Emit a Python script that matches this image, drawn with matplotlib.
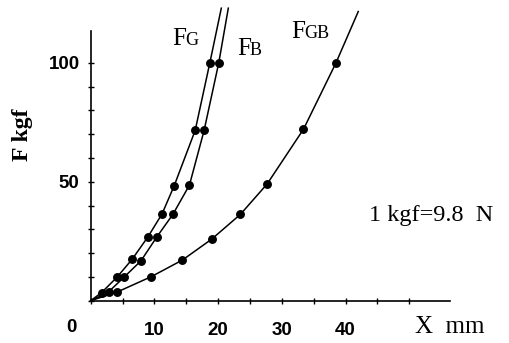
import numpy as np
import matplotlib.pyplot as plt

# load F (kgf) against extension X (mm); first and last entries are where
# the drawn curves start (origin) and run off the top, not measured points
fg_x = [0, 1.7, 4.1, 6.5, 9.0, 11.2, 13.1, 16.4, 18.7, 20.5]
fg_y = [0, 3.4, 9.8, 17.4, 26.9, 36.5, 48.3, 71.6, 100, 123]
fb_x = [0, 2.8, 5.2, 7.9, 10.4, 12.9, 15.5, 17.8, 20.1, 21.6]
fb_y = [0, 3.7, 9.8, 16.8, 26.9, 36.3, 48.6, 71.6, 100, 123]
fgb_x = [0, 4.2, 9.5, 14.4, 19.0, 23.5, 27.7, 33.4, 38.5, 42.0]
fgb_y = [0, 3.7, 10.1, 17.1, 25.9, 36.3, 49.1, 72.1, 100, 121.6]

x_ticks = np.arange(0, 55, 5)
x_labels = ['' if v % 10 or v == 0 or v > 40 else str(v) for v in x_ticks]
y_ticks = np.arange(0, 110, 10)
y_labels = [str(v) if v in (50, 100) else '' for v in y_ticks]

W, H = 510, 343
serif = 'Liberation Serif'
sans = 'Liberation Sans'


def px(x, y):
    return x / W, 1 - y / H


fig = plt.figure(figsize=(W / 100, H / 100), dpi=100)
ax = fig.add_axes([90.7 / W, 1 - 300.7 / H, (450 - 90.7) / W, (300.7 - 7) / H])

for xs, ys in [(fg_x, fg_y), (fb_x, fb_y), (fgb_x, fgb_y)]:
    ax.plot(xs, ys, color='black', lw=1.1, marker='o', ms=5.4,
            markevery=slice(1, -1), clip_on=False)

ax.set_xlim(0, 56.4)
ax.set_ylim(0, 123.5)
ax.spines['top'].set_visible(False)
ax.spines['right'].set_visible(False)
ax.spines['left'].set_bounds(0, 113.5)
for s in ('left', 'bottom'):
    ax.spines[s].set_linewidth(1.2)

ax.set_xticks(x_ticks)
ax.set_xticklabels(x_labels, fontfamily=sans, fontweight='bold', fontsize=13.5)
ax.set_yticks(y_ticks)
ax.set_yticklabels(y_labels, fontfamily=sans, fontweight='bold', fontsize=13.5)
ax.tick_params(axis='both', direction='inout', length=4, width=1.0)
ax.tick_params(axis='x', pad=13)
ax.tick_params(axis='y', pad=6)

fig.text(*px(71.5, 328), '0', fontfamily=sans, fontweight='bold',
         fontsize=13.5, ha='center', va='center')
fig.text(*px(450, 327), 'X  mm', fontfamily=serif, fontsize=18,
         ha='center', va='center')
fig.text(*px(23, 135), 'F kgf', fontfamily=serif, fontweight='bold',
         fontsize=17, rotation=90, ha='center', va='center')
fig.text(*px(431, 216), '1 kgf=9.8  N', fontfamily=serif, fontsize=17.5,
         ha='center', va='center')

# curve names: a large F followed by small capitals
for x0, y0, sub in [(172, 45, 'G'), (237, 55, 'B'), (291, 38, 'GB')]:
    fig.text(*px(x0, y0), 'F', fontfamily=serif, fontsize=18, va='baseline')
    fig.text(*px(x0 + 13, y0), sub, fontfamily=serif, fontsize=13,
             va='baseline')

plt.savefig('out.png', dpi=100)
